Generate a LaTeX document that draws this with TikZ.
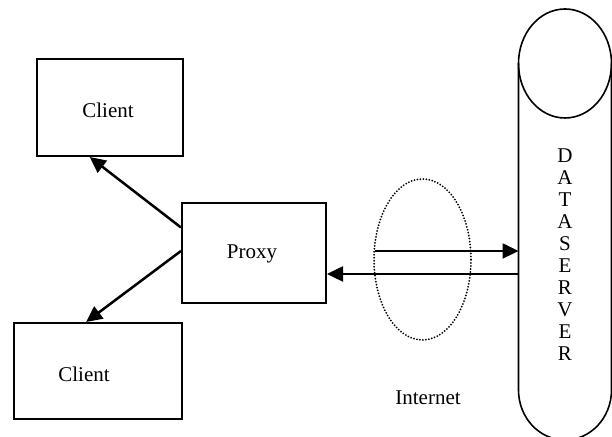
\documentclass[tikz,border=0pt]{standalone}
\usepackage{fontspec}
\setmainfont{Liberation Serif}
\usetikzlibrary{arrows.meta,shapes.geometric,calc}
\tikzset{
  box/.style={draw, line width=1pt, inner sep=0pt},
  conn/.style={line width=1.25pt, -{Triangle[length=8pt,width=7.5pt]}},
  cloud/.style={ellipse, draw, line width=1pt, line cap=round, dash pattern=on 0pt off 1.5pt, inner sep=0pt},
  lbl/.style={font=\fontsize{10.5}{11}\selectfont, inner sep=0pt}
}
\begin{document}
\begin{tikzpicture}[x=0.5pt,y=0.5pt]
\useasboundingbox (0,0) rectangle (612,-437);
% clients and proxy
\node[box, minimum width=73pt, minimum height=48.5pt] (c1) at (110,-107.5) {};
\node[lbl] (c1t) at (108,-110) {Client};
\node[box, minimum width=84pt, minimum height=48pt] (c2) at (98,-371) {};
\node[lbl] (c2t) at (84,-374) {Client};
\node[box, minimum width=72pt, minimum height=50pt] (p) at (254,-253) {};
\node[lbl] (pt) at (252,-254) {Proxy};
% internet cloud
\node[cloud, minimum width=48.5pt, minimum height=80.5pt] (net) at (422.5,-259.5) {};
\node[lbl] (nett) at (428,-398) {Internet};
% data server cylinder
\coordinate (dsTL) at (518.5,-63.5);
\coordinate (dsTR) at (611.5,-63.5);
\coordinate (dsBL) at (518.5,-390);
\coordinate (dsBR) at (611.5,-390);
\draw[line width=0.8pt] (565,-63.5) ellipse [x radius=46.5, y radius=54.5];
\draw[line width=0.8pt] (dsTL) -- (dsBL) arc[start angle=180, end angle=360, x radius=46.5, y radius=50] -- (dsTR);
\node[lbl, align=center] (ds) at (565,-255) {D\\A\\T\\A\\S\\E\\R\\V\\E\\R};
% connectors
\draw[conn] ($(p.north west)!0.25!(p.south west)$) -- ($(c1.south west)!0.363!(c1.south east)$);
\draw[conn] ($(p.north west)!0.48!(p.south west)$) -- ($(c2.north west)!0.43!(c2.north east)$);
\coordinate (inStart) at (375,-251);
\draw[conn] (inStart) -- (inStart -| dsTL);
\coordinate (outStart) at (518.5,-274);
\draw[conn] (outStart) -- (outStart -| p.east);
\end{tikzpicture}
\end{document}
